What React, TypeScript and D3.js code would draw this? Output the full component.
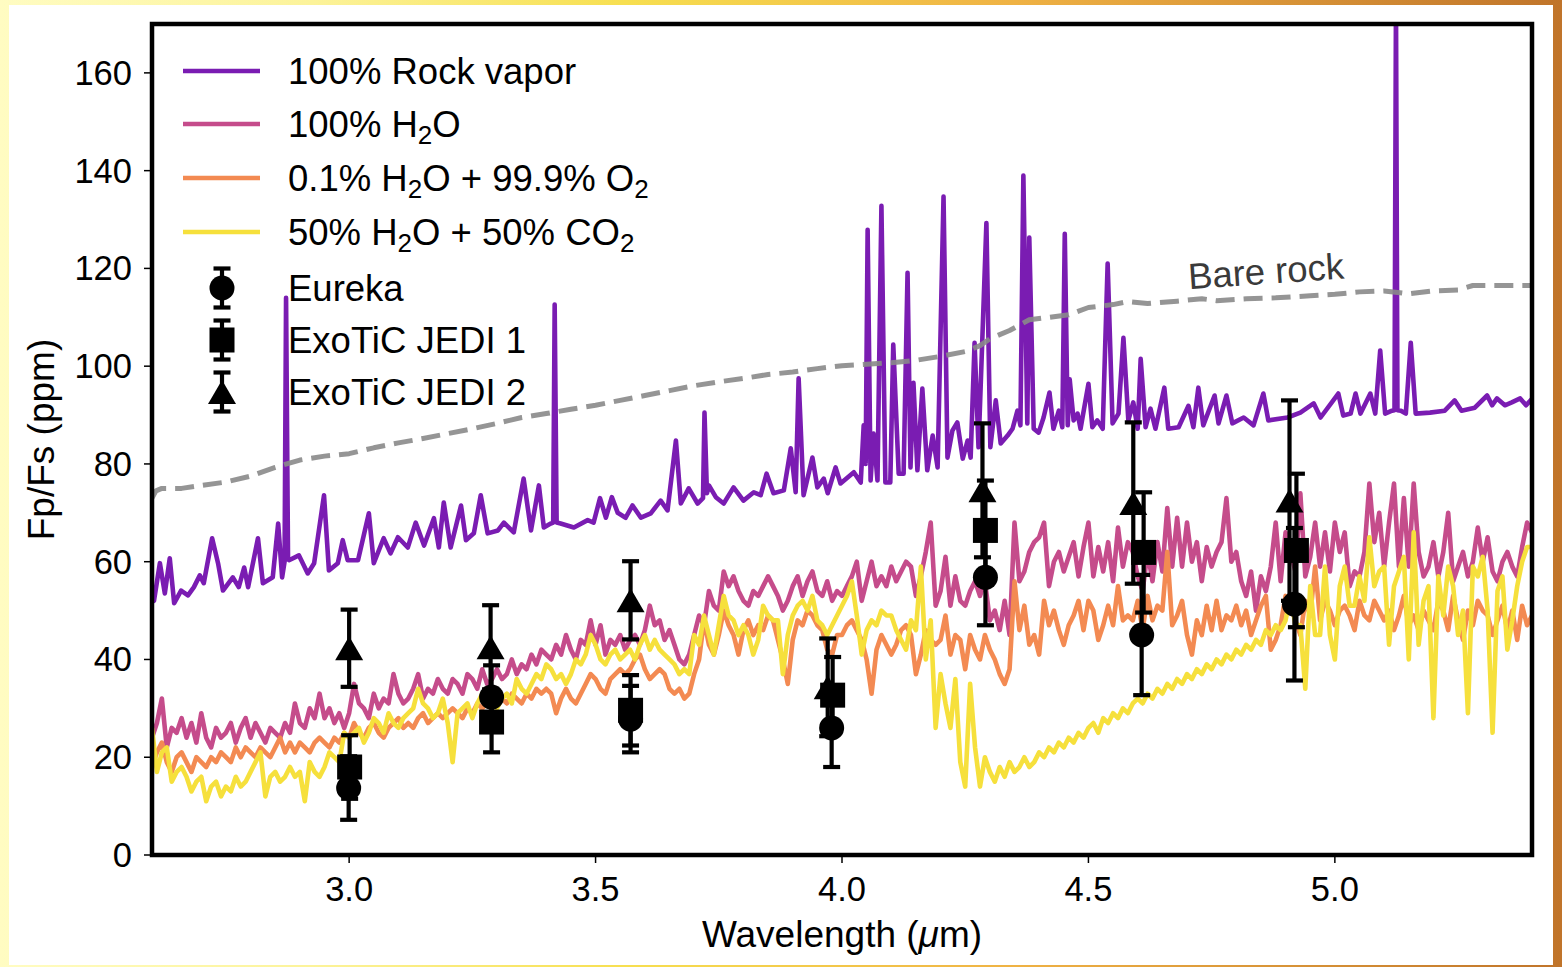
import React from "react";
import * as d3 from "d3";

const W = 1562;
const H = 967;
const PL = 152, PR = 1532, PT = 24, PB = 855;

const xDomain: [number, number] = [2.6, 5.4];
const yDomain: [number, number] = [0, 170];
const xTicks = [3.0, 3.5, 4.0, 4.5, 5.0];
const yTicks = [0, 20, 40, 60, 80, 100, 120, 140, 160];

// Model spectra sampled every 0.01 um starting at 2.60 um
const modelStart = 2.6;
const modelStep = 0.01;

const h2oValues = [
  24, 27, 32, 22, 26, 25, 28, 24, 27, 23,
  29, 24, 22, 26, 24, 25, 27, 23, 26, 28,
  24, 27, 25, 23, 26, 25, 24, 27, 25, 31,
  27, 26, 30, 28, 33, 28, 30, 27, 29, 26,
  29, 35, 31, 30, 28, 33, 30, 32, 31, 37,
  33, 31, 32, 34, 37, 32, 34, 33, 36, 34,
  33, 36, 35, 33, 37, 36, 34, 38, 35, 36,
  38, 36, 37, 40, 37, 39, 38, 41, 39, 42,
  41, 40, 43, 41, 45, 42, 40, 44, 43, 48,
  43, 47, 41, 44, 43, 45, 42, 44, 45, 43,
  46, 51, 47, 48, 44, 46, 43, 40, 39, 41,
  45, 49, 47, 54, 51, 50, 58, 55, 57, 54,
  52, 51, 54, 53, 55, 57, 55, 53, 50, 52,
  55, 57, 53, 56, 58, 54, 53, 56, 52, 54,
  53, 55, 57, 60, 52, 56, 60, 55, 57, 55,
  59, 56, 58, 60, 59, 53, 57, 62, 68, 51,
  54, 61, 51, 57, 52, 51, 54, 56, 53, 56,
  48, 50, 46, 52, 45, 68, 56, 58, 62, 64,
  65, 68, 55, 60, 62, 58, 61, 64, 57, 63,
  68, 57, 63, 58, 64, 56, 67, 59, 64, 62,
  57, 54, 62, 56, 64, 58, 71, 59, 69, 59,
  68, 60, 64, 56, 63, 59, 62, 64, 73, 60,
  62, 56, 53, 58, 50, 57, 54, 59, 68, 56,
  66, 62, 58, 74, 57, 61, 68, 59, 66, 58,
  68, 62, 66, 55, 58, 57, 62, 76, 64, 70,
  59, 68, 76, 59, 73, 59, 76, 62, 57, 59,
  64, 57, 62, 70, 56, 59, 62, 57, 60, 67,
  60, 65, 58, 56, 60, 62, 59, 57, 63, 68,
  66,
];

const o2Values = [
  18, 21, 23, 19, 17, 20, 21, 19, 17, 20,
  19, 18, 20, 19, 21, 20, 19, 22, 20, 22,
  21, 20, 22, 21, 20, 22, 24, 21, 23, 21,
  23, 22, 21, 23, 24, 23, 22, 24, 23, 25,
  24, 27, 25, 24, 26, 27, 25, 24, 26, 27,
  28, 26, 27, 26, 28, 29, 27, 28, 29, 28,
  29, 30, 29, 28, 30, 29, 31, 30, 31, 30,
  31, 32, 31, 33, 32, 31, 33, 32, 34, 33,
  34, 33, 29, 32, 34, 32, 31, 33, 35, 37,
  36, 34, 33, 36, 37, 38, 37, 38, 40, 41,
  38, 36, 37, 38, 37, 34, 33, 34, 32, 33,
  37, 40, 48, 43, 41, 45, 50, 47, 45, 41,
  46, 48, 45, 47, 46, 49, 48, 44, 40, 35,
  44, 48, 47, 50, 49, 47, 46, 42, 41, 45,
  45, 47, 48, 46, 44, 40, 33, 42, 45, 43,
  41, 43, 46, 47, 45, 37, 41, 46, 44, 43,
  44, 49, 41, 45, 44, 38, 45, 42, 40, 45,
  42, 40, 37, 35, 38, 56, 46, 51, 43, 45,
  41, 52, 47, 50, 46, 43, 47, 49, 52, 46,
  52, 50, 44, 47, 51, 47, 55, 48, 49, 48,
  52, 46, 53, 48, 51, 50, 62, 47, 49, 52,
  45, 41, 48, 45, 51, 46, 52, 46, 49, 48,
  51, 47, 50, 45, 48, 51, 53, 42, 44, 47,
  53, 51, 48, 45, 52, 49, 59, 48, 52, 50,
  47, 50, 51, 49, 46, 52, 49, 48, 52, 50,
  48, 50, 46, 49, 53, 47, 49, 46, 50, 48,
  46, 52, 50, 46, 53, 48, 44, 50, 47, 52,
  50, 49, 45, 48, 51, 46, 50, 44, 51, 47,
  49,
];

const co2Values = [
  26, 17, 21, 22, 15, 17, 18, 16, 13, 15,
  16, 11, 14, 15, 12, 14, 13, 16, 14, 15,
  17, 19, 21, 12, 16, 17, 15, 16, 18, 16,
  17, 11, 19, 17, 16, 18, 21, 20, 19, 25,
  24, 25, 26, 23, 25, 28, 27, 25, 29, 27,
  26, 28, 29, 30, 34, 31, 30, 28, 29, 32,
  27, 19, 29, 30, 31, 28, 31, 33, 32, 31,
  30, 32, 33, 31, 36, 34, 33, 35, 37, 36,
  39, 38, 36, 37, 35, 37, 40, 39, 41, 45,
  43, 40, 39, 41, 42, 40, 41, 42, 40, 43,
  45, 42, 44, 42, 41, 40, 39, 37, 38, 37,
  45, 43, 49, 45, 41, 47, 53, 49, 48, 45,
  47, 45, 41, 44, 51, 49, 48, 48, 37, 45,
  49, 51, 52, 50, 53, 48, 47, 45, 47, 49,
  51, 53, 56, 49, 41, 46, 48, 47, 50, 49,
  49, 46, 44, 42, 48, 46, 59, 40, 48, 26,
  37, 31, 26, 36, 19, 14, 35, 22, 14, 20,
  17, 15, 18, 16, 19, 17, 18, 20, 18, 19,
  21, 20, 22, 21, 23, 22, 24, 23, 25, 24,
  26, 27, 25, 28, 27, 29, 28, 30, 29, 31,
  32, 31, 33, 32, 34, 33, 35, 34, 36, 35,
  37, 36, 38, 37, 39, 38, 40, 39, 41, 40,
  42, 41, 43, 42, 44, 43, 46, 45, 47, 46,
  48, 53, 47, 47, 34, 55, 45, 45, 59, 45,
  40, 55, 59, 51, 51, 57, 52, 65, 55, 58,
  59, 43, 55, 58, 61, 40, 66, 43, 52, 55,
  28, 57, 49, 59, 55, 45, 50, 29, 59, 57,
  61, 50, 25, 54, 57, 42, 48, 55, 60, 63,
  63,
];

const rockVapor: [number, number][] = [
  [2.602, 52.1], [2.604, 52], [2.616, 59.7], [2.626, 53.5], [2.636, 60.7], [2.645, 51.5],
  [2.659, 54.1], [2.673, 53.1], [2.685, 54.8], [2.697, 57.2], [2.705, 55.6], [2.722, 64.8],
  [2.734, 59.7], [2.744, 54.1], [2.764, 56.8], [2.776, 54.8], [2.787, 58.8], [2.795, 54.8],
  [2.815, 64.8], [2.825, 55.6], [2.845, 56.8], [2.856, 67.8], [2.864, 56.8], [2.869, 60],
  [2.872, 114], [2.876, 60.5], [2.878, 60.3], [2.898, 61.3], [2.916, 57.6], [2.929, 59.7],
  [2.949, 73.6], [2.959, 58.2], [2.977, 59.7], [2.987, 64.4], [2.997, 60.3], [3.018, 60.3],
  [3.04, 69.9], [3.05, 59.7], [3.07, 64.8], [3.084, 61.7], [3.099, 65], [3.119, 62.9],
  [3.135, 68], [3.152, 63.3], [3.172, 68.9], [3.182, 62.9], [3.192, 72.1], [3.206, 62.9],
  [3.227, 71.5], [3.237, 64.4], [3.253, 65.8], [3.267, 73.6], [3.281, 65.8], [3.302, 66.4],
  [3.314, 68], [3.334, 66], [3.354, 77], [3.369, 66.4], [3.385, 75.6], [3.395, 67],
  [3.409, 67.8], [3.414, 68], [3.417, 112.6], [3.421, 68], [3.429, 67.8], [3.456, 67],
  [3.484, 68.5], [3.496, 68], [3.509, 73], [3.521, 69], [3.533, 73.2], [3.545, 70],
  [3.561, 69], [3.575, 71.5], [3.592, 69], [3.612, 69.9], [3.632, 72.5], [3.646, 70.5],
  [3.663, 84.8], [3.673, 71.9], [3.689, 75], [3.707, 71.9], [3.718, 73], [3.721, 90.5],
  [3.726, 74], [3.73, 75.6], [3.744, 73.2], [3.76, 71.9], [3.78, 75.2], [3.8, 72.5],
  [3.821, 74.2], [3.835, 73.6], [3.847, 78], [3.861, 74], [3.882, 74.6], [3.896, 83.2],
  [3.906, 74.2], [3.912, 97.5], [3.922, 73.6], [3.94, 81.3], [3.95, 75.2], [3.963, 77],
  [3.971, 74], [3.987, 79.3], [3.997, 76], [4.024, 78.3], [4.038, 76.2], [4.044, 87.9],
  [4.048, 80], [4.052, 127.9], [4.058, 76.6], [4.064, 86.2], [4.072, 76.6], [4.08, 132.8],
  [4.088, 76.2], [4.098, 76.2], [4.104, 104.4], [4.115, 78], [4.125, 78], [4.133, 119.1],
  [4.139, 79.3], [4.145, 96.6], [4.153, 78.7], [4.163, 95.4], [4.173, 78.7], [4.184, 85.8],
  [4.194, 79.3], [4.206, 134.7], [4.214, 81.3], [4.224, 86.8], [4.234, 88.5], [4.245, 81.1],
  [4.255, 84.8], [4.261, 81.3], [4.269, 104.8], [4.277, 83.4], [4.293, 129.3], [4.301, 83.4],
  [4.312, 93], [4.322, 84.2], [4.336, 85.8], [4.346, 87.2], [4.356, 90.9], [4.362, 87.9],
  [4.368, 139], [4.376, 88.3], [4.38, 126.3], [4.389, 87.2], [4.399, 86.4], [4.409, 89.5],
  [4.421, 94.6], [4.429, 87.2], [4.44, 90.9], [4.447, 87.5], [4.452, 127.1], [4.458, 87.9],
  [4.462, 97.3], [4.47, 88.9], [4.478, 90.3], [4.484, 87.2], [4.5, 96.4], [4.508, 87.5],
  [4.518, 88.9], [4.529, 87.2], [4.539, 121], [4.549, 88.3], [4.561, 90.3], [4.571, 105.8],
  [4.581, 88.9], [4.591, 92.6], [4.6, 87.2], [4.606, 101.5], [4.616, 87.5], [4.626, 91.3],
  [4.636, 87.2], [4.654, 95.6], [4.662, 87.2], [4.683, 87.5], [4.703, 91.9], [4.713, 87.5],
  [4.723, 95.6], [4.733, 87.9], [4.756, 94], [4.764, 88.3], [4.78, 94], [4.792, 88.3],
  [4.815, 89.5], [4.835, 87.9], [4.855, 94.4], [4.865, 88.9], [4.904, 89.5], [4.93, 90.5],
  [4.957, 92.4], [4.971, 89.5], [5.007, 94.4], [5.017, 89.9], [5.032, 90.3], [5.042, 94.4],
  [5.052, 90.3], [5.072, 94.4], [5.082, 90.3], [5.092, 103.2], [5.102, 90.3], [5.116, 90.9],
  [5.121, 91], [5.124, 175], [5.127, 91], [5.134, 90.9], [5.144, 90.3], [5.154, 104.8],
  [5.164, 90.3], [5.193, 90.5], [5.223, 90.9], [5.243, 93], [5.257, 90.9], [5.284, 91.5],
  [5.309, 94], [5.319, 92], [5.329, 93.4], [5.345, 92], [5.359, 92.6], [5.376, 93.4],
  [5.388, 92], [5.401, 93.4],
];

const bareRock: [number, number][] = [
  [2.6, 73], [2.608, 74.5], [2.62, 75], [2.66, 75], [2.7, 75.6], [2.75, 76.3], [2.8, 77.5],
  [2.85, 79.3], [2.9, 80.8], [2.95, 81.6], [3.0, 82.1], [3.05, 83.3], [3.1, 84.3], [3.15, 85.2],
  [3.2, 86.2], [3.25, 87.2], [3.3, 88.3], [3.35, 89.5], [3.4, 90.3], [3.45, 91.2], [3.5, 92],
  [3.55, 93], [3.6, 94], [3.65, 95], [3.7, 96], [3.75, 96.8], [3.8, 97.5], [3.85, 98.3],
  [3.9, 98.8], [3.95, 99.5], [4.0, 100.1], [4.05, 100.4], [4.1, 100.7], [4.15, 101.2],
  [4.2, 102], [4.25, 103], [4.28, 104.2], [4.3, 105.6], [4.34, 107.3], [4.38, 109.5],
  [4.42, 110], [4.46, 110.5], [4.5, 112], [4.55, 112.6], [4.58, 113.2], [4.62, 112.8],
  [4.68, 113.3], [4.73, 113.8], [4.76, 113.4], [4.82, 113.8], [4.88, 114], [4.95, 114.4],
  [5.0, 114.7], [5.05, 115.2], [5.1, 115.4], [5.15, 114.8], [5.2, 115.4], [5.25, 115.6],
  [5.28, 116.5], [5.35, 116.5], [5.4, 116.5],
];

// Observations
const eurekaX = [2.999, 3.289, 3.571, 3.979, 4.291, 4.608, 4.918];
const eurekaY = [13.7, 32.3, 27.8, 26.0, 56.8, 45.0, 51.3];
const eurekaErr = [6.5, 6.5, 6.8, 8.0, 9.8, 12.3, 15.6];

const jedi1X = [3.001, 3.289, 3.571, 3.981, 4.291, 4.612, 4.922];
const jedi1Y = [18.0, 27.2, 29.6, 32.7, 66.4, 61.9, 62.3];
const jedi1Err = [6.5, 6.2, 7.2, 7.8, 10.2, 12.3, 15.7];

const jedi2X = [3.0, 3.287, 3.571, 3.971, 4.285, 4.591, 4.908];
const jedi2Y = [42.3, 42.5, 52.1, 34.3, 74.6, 72.0, 72.5];
const jedi2Err = [7.9, 8.6, 8.0, 10.0, 13.7, 16.5, 20.5];

const COLORS = {
  rock: "#7a1cb2",
  h2o: "#c54c8b",
  o2: "#f38a52",
  co2: "#f6e03c",
  bare: "#8a8a8a",
};

const FONT = "'Liberation Sans', Arial, Helvetica, sans-serif";

type Marker = "circle" | "square" | "triangle";

function MarkerShape({ cx, cy, kind }: { cx: number; cy: number; kind: Marker }) {
  if (kind === "circle") return <circle cx={cx} cy={cy} r={12.5} fill="#000" />;
  if (kind === "square") return <rect x={cx - 12.5} y={cy - 12.5} width={25} height={25} fill="#000" />;
  const w = 14, h = 12;
  return <path d={`M${cx},${cy - h}L${cx + w},${cy + h}L${cx - w},${cy + h}Z`} fill="#000" />;
}

function ErrorBar({ cx, y1, y2 }: { cx: number; y1: number; y2: number }) {
  return (
    <g stroke="#000" strokeWidth={4.2}>
      <line x1={cx} x2={cx} y1={y1} y2={y2} />
      <line x1={cx - 8.5} x2={cx + 8.5} y1={y1} y2={y1} />
      <line x1={cx - 8.5} x2={cx + 8.5} y1={y2} y2={y2} />
    </g>
  );
}

export default function App() {
  const x = d3.scaleLinear().domain(xDomain).range([PL, PR]);
  const y = d3.scaleLinear().domain(yDomain).range([PB, PT]);
  const line = d3
    .line<[number, number]>()
    .x((d) => x(d[0]))
    .y((d) => y(d[1]));

  const toPairs = (vals: number[]): [number, number][] =>
    vals.map((v, i) => [modelStart + i * modelStep, v]);

  const models = [
    { key: "rock", data: rockVapor, color: COLORS.rock },
    { key: "h2o", data: toPairs(h2oValues), color: COLORS.h2o },
    { key: "o2", data: toPairs(o2Values), color: COLORS.o2 },
    { key: "co2", data: toPairs(co2Values), color: COLORS.co2 },
  ];

  const obs: { xs: number[]; ys: number[]; es: number[]; kind: Marker }[] = [
    { xs: eurekaX, ys: eurekaY, es: eurekaErr, kind: "circle" },
    { xs: jedi1X, ys: jedi1Y, es: jedi1Err, kind: "square" },
    { xs: jedi2X, ys: jedi2Y, es: jedi2Err, kind: "triangle" },
  ];

  const legendLines = [
    { color: COLORS.rock, y: 71, label: <>100% Rock vapor</> },
    {
      color: COLORS.h2o,
      y: 124,
      label: (
        <>
          100% H<tspan fontSize={26} dy={7}>2</tspan>
          <tspan dy={-7}>O</tspan>
        </>
      ),
    },
    {
      color: COLORS.o2,
      y: 178,
      label: (
        <>
          0.1% H<tspan fontSize={26} dy={7}>2</tspan>
          <tspan dy={-7}>O + 99.9% O</tspan>
          <tspan fontSize={26} dy={7}>2</tspan>
        </>
      ),
    },
    {
      color: COLORS.co2,
      y: 232,
      label: (
        <>
          50% H<tspan fontSize={26} dy={7}>2</tspan>
          <tspan dy={-7}>O + 50% CO</tspan>
          <tspan fontSize={26} dy={7}>2</tspan>
        </>
      ),
    },
  ];
  const legendMarkers: { kind: Marker; y: number; label: string }[] = [
    { kind: "circle", y: 288, label: "Eureka" },
    { kind: "square", y: 340, label: "ExoTiC JEDI 1" },
    { kind: "triangle", y: 392, label: "ExoTiC JEDI 2" },
  ];

  return (
    <div style={{ position: "fixed", left: 0, top: 0 }}>
      <svg width={W} height={H} viewBox={`0 0 ${W} ${H}`} style={{ display: "block", fontFamily: FONT }}>
        <defs>
          <linearGradient id="frame" x1="0" y1="0" x2="1" y2="0">
            <stop offset="0" stopColor="#fffcc2" />
            <stop offset="0.2" stopColor="#fcf39a" />
            <stop offset="0.4" stopColor="#f7df50" />
            <stop offset="0.65" stopColor="#efb244" />
            <stop offset="1" stopColor="#c0742a" />
          </linearGradient>
          <clipPath id="plotClip">
            <rect x={PL} y={PT} width={PR - PL} height={PB - PT} />
          </clipPath>
        </defs>
        <rect x={0} y={0} width={W} height={H} fill="url(#frame)" />
        <rect x={9} y={5} width={1544} height={960} fill="#fff" />

        <g clipPath="url(#plotClip)" fill="none" strokeLinejoin="round">
          {models.map((m) => (
            <path key={m.key} d={line(m.data) || ""} stroke={m.color} strokeWidth={4.6} />
          ))}
          <path
            d={line(bareRock) || ""}
            stroke={COLORS.bare}
            strokeOpacity={0.9}
            strokeWidth={5}
            strokeDasharray="19 9"
          />
        </g>

        <text
          x={0}
          y={0}
          fontSize={36.5}
          fill="#3a3a3a"
          textAnchor="middle"
          transform={`translate(${x(4.862)},${y(115.2) - 8}) rotate(-4)`}
        >
          Bare rock
        </text>

        {obs.map((o, si) => (
          <g key={si}>
            {o.xs.map((xv, i) => (
              <g key={i}>
                <ErrorBar cx={x(xv)} y1={y(o.ys[i] + o.es[i])} y2={y(o.ys[i] - o.es[i])} />
                <MarkerShape cx={x(xv)} cy={y(o.ys[i])} kind={o.kind} />
              </g>
            ))}
          </g>
        ))}

        {/* axes */}
        <g stroke="#000" strokeWidth={1.5}>
          {yTicks.map((t) => (
            <line key={t} x1={PL - 8} x2={PL} y1={y(t)} y2={y(t)} />
          ))}
          {xTicks.map((t) => (
            <line key={t} x1={x(t)} x2={x(t)} y1={PB} y2={PB + 8} />
          ))}
        </g>
        <g fontSize={34.5} fill="#000">
          {yTicks.map((t) => (
            <text key={t} x={PL - 20} y={y(t) + 12} textAnchor="end">
              {t}
            </text>
          ))}
          {xTicks.map((t) => (
            <text key={t} x={x(t)} y={PB + 46} textAnchor="middle">
              {t.toFixed(1)}
            </text>
          ))}
        </g>
        <rect x={PL} y={PT} width={PR - PL} height={PB - PT} fill="none" stroke="#000" strokeWidth={4.5} />

        <text x={(PL + PR) / 2} y={947} fontSize={37} textAnchor="middle">
          Wavelength (<tspan fontStyle="italic">μ</tspan>m)
        </text>
        <text
          fontSize={37}
          textAnchor="middle"
          transform={`translate(54,${(PT + PB) / 2}) rotate(-90)`}
        >
          Fp/Fs (ppm)
        </text>

        {/* legend */}
        <g fontSize={36.5} fill="#000">
          {legendLines.map((l, i) => (
            <g key={i}>
              <line x1={183} x2={260} y1={l.y} y2={l.y} stroke={l.color} strokeWidth={4.6} />
              <text x={288} y={l.y + 12.5}>
                {l.label}
              </text>
            </g>
          ))}
          {legendMarkers.map((m, i) => (
            <g key={i}>
              <ErrorBar cx={222} y1={m.y - 19.5} y2={m.y + 19.5} />
              <MarkerShape cx={222} cy={m.y} kind={m.kind} />
              <text x={288} y={m.y + 12.5}>
                {m.label}
              </text>
            </g>
          ))}
        </g>
      </svg>
    </div>
  );
}
